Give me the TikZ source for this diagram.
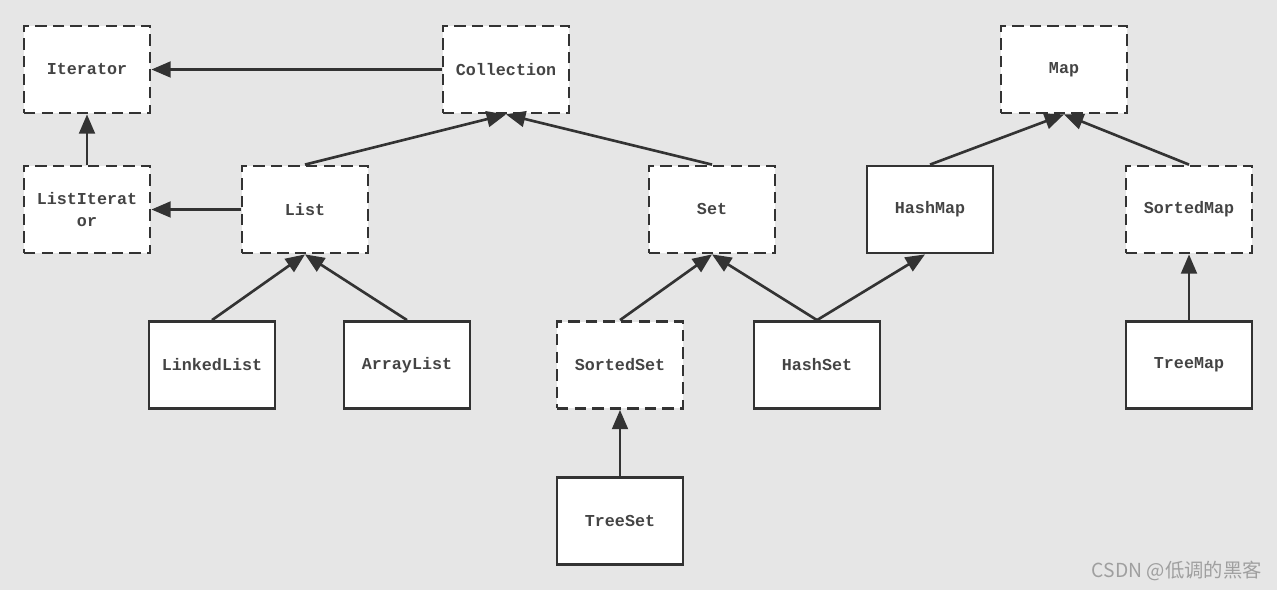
\documentclass[tikz,border=0pt]{standalone}
\usepackage{fontspec}
\setmonofont{Liberation Mono}
\newfontfamily\cjkfont{Noto Sans CJK SC}
\usetikzlibrary{arrows.meta}
\definecolor{fond}{HTML}{E6E6E6}
\definecolor{trait}{HTML}{333333}
\definecolor{texte}{HTML}{444444}

\begin{document}
\begin{tikzpicture}[x=0.02cm,y=-0.02cm,
  boite/.style={draw=trait, fill=white, line width=1.6pt, minimum width=2.52cm,
    minimum height=1.74cm, inner sep=0pt, align=center, text=texte,
    font=\ttfamily\bfseries\fontsize{9.5}{12}\selectfont},
  iface/.style={boite, dash pattern=on 6.5pt off 3.5pt},
  fleche/.style={draw=trait, line width=1.5pt, -{Triangle[length=11pt,width=9pt]}}]

      % FOND
      \fill[fond] (0,0) rectangle (1277,590);
      \useasboundingbox (0,0) rectangle (1277,590);

      % INTERFACES
      \node[iface] (iterator)     at (87,69.5)    {Iterator};
      \node[iface] (collection)   at (506,69.5)   {Collection};
      \node[iface] (map)          at (1064,69.5)  {Map};
      \node[iface] (listiterator) at (87,209.5)   {ListIterat\\or};
      \node[iface] (list)         at (305,209.5)  {List};
      \node[iface] (set)          at (712,209.5)  {Set};
      \node[iface] (sortedmap)    at (1189,209.5) {SortedMap};
      \node[iface] (sortedset)    at (620,365)    {SortedSet};

      % CLASSES
      \node[boite] (hashmap)    at (930,209.5) {HashMap};
      \node[boite] (linkedlist) at (212,365)   {LinkedList};
      \node[boite] (arraylist)  at (407,365)   {ArrayList};
      \node[boite] (hashset)    at (817,365)   {HashSet};
      \node[boite] (treemap)    at (1189,365)  {TreeMap};
      \node[boite] (treeset)    at (620,521)   {TreeSet};

      % FLECHES
      \draw[fleche] (collection.west) -- (iterator.east);
      \draw[fleche] (listiterator.north) -- (iterator.south);
      \draw[fleche] (list.west) -- (listiterator.east);
      \draw[fleche] (list.north) -- (collection.south);
      \draw[fleche] (set.north) -- (collection.south);
      \draw[fleche] (hashmap.north) -- (map.south);
      \draw[fleche] (sortedmap.north) -- (map.south);
      \draw[fleche] (linkedlist.north) -- (list.south);
      \draw[fleche] (arraylist.north) -- (list.south);
      \draw[fleche] (sortedset.north) -- (set.south);
      \draw[fleche] (hashset.north) -- (set.south);
      \draw[fleche] (hashset.north) -- ([xshift=-0.1cm]hashmap.south);
      \draw[fleche] (treeset.north) -- (sortedset.south);
      \draw[fleche] (treemap.north) -- (sortedmap.south);

      % MARQUE
      \node[anchor=east, text=gray!75, font=\cjkfont\fontsize{11}{13}\selectfont] (marque)
        at (1268,571) {CSDN @低调的黑客};
\end{tikzpicture}
\end{document}
